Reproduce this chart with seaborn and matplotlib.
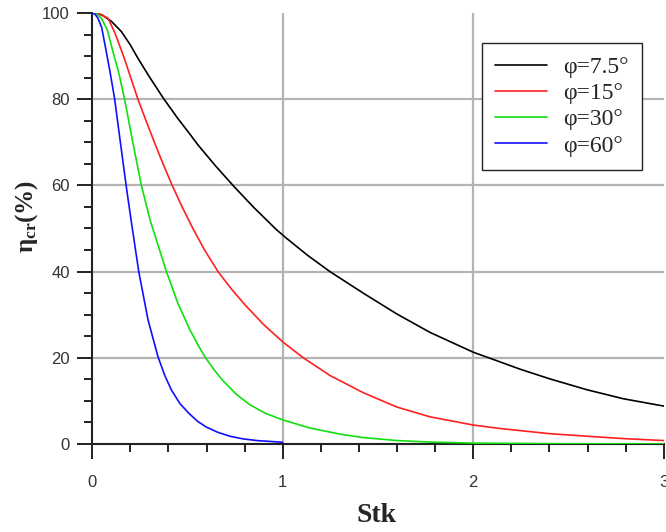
import numpy as np
import pandas as pd
import matplotlib
matplotlib.use("Agg")
import matplotlib.pyplot as plt
from matplotlib.ticker import MultipleLocator
import seaborn as sns

# Collection efficiency curves (Stk, eta_cr in %) for each angle
labels = ["φ=7.5°", "φ=15°", "φ=30°", "φ=60°"]
colors = ["#000000", "#ff2020", "#10e010", "#1010ff"]

stk_75 = [0, 0.05, 0.1, 0.153, 0.2, 0.24, 0.3, 0.377, 0.45, 0.513, 0.555, 0.65,
          0.741, 0.85, 0.968, 1.021, 1.13, 1.248, 1.423, 1.598, 1.773, 2.0, 2.088,
          2.25, 2.403, 2.596, 2.788, 3.0]
eta_75 = [100, 99.6, 98.1, 95.7, 92.6, 89.5, 85.2, 80.0, 75.5, 71.9, 69.4, 64.4,
          59.9, 54.8, 49.7, 47.7, 43.8, 40.0, 35.0, 30.2, 25.9, 21.3, 19.9,
          17.3, 15.1, 12.6, 10.5, 8.8]

stk_15 = [0, 0.04, 0.083, 0.12, 0.17, 0.2, 0.24, 0.28, 0.33, 0.37, 0.42, 0.47,
          0.525, 0.59, 0.662, 0.73, 0.802, 0.9, 1.0, 1.108, 1.248, 1.423, 1.598,
          1.773, 2.0, 2.14, 2.40, 2.6, 2.79, 3.0]
eta_15 = [100, 99.7, 98.8, 95.3, 89.3, 85.3, 80.0, 75.3, 69.6, 65.2, 60.0, 55.2,
          50.3, 45.0, 39.9, 36.0, 32.3, 27.7, 23.7, 20.0, 15.9, 11.9, 8.6,
          6.3, 4.4, 3.6, 2.4, 1.8, 1.25, 0.8]

stk_30 = [0, 0.025, 0.048, 0.08, 0.109, 0.14, 0.17, 0.214, 0.258, 0.305, 0.389,
          0.45, 0.513, 0.555, 0.592, 0.64, 0.688, 0.76, 0.828, 0.91, 1.0, 1.143,
          1.30, 1.42, 1.6, 1.77, 2.0, 2.5, 3.0]
eta_30 = [100, 99.7, 98.8, 96.0, 91.0, 86.0, 80.0, 69.8, 60.0, 51.8, 40.1,
          32.6, 26.5, 23.0, 20.2, 17.2, 14.6, 11.4, 9.1, 7.1, 5.6, 3.7,
          2.3, 1.5, 0.8, 0.45, 0.2, 0.05, 0.02]

stk_60 = [0, 0.015, 0.03, 0.05, 0.074, 0.095, 0.118, 0.144, 0.179, 0.203, 0.244,
          0.293, 0.345, 0.38, 0.415, 0.46, 0.508, 0.555, 0.60, 0.66, 0.723, 0.79,
          0.864, 1.0]
eta_60 = [100, 99.7, 98.8, 96.6, 91.0, 86.0, 80.0, 71.3, 59.7, 52.3, 40.1,
          28.8, 20.3, 16.0, 12.6, 9.4, 7.1, 5.2, 3.9, 2.7, 1.8, 1.2,
          0.8, 0.4]

x_ticks = [0, 1, 2, 3]
y_ticks = [0, 20, 40, 60, 80, 100]

frames = []
for lab, s, e in zip(labels, [stk_75, stk_15, stk_30, stk_60],
                     [eta_75, eta_15, eta_30, eta_60]):
    frames.append(pd.DataFrame({"Stk": s, "eta": e, "case": lab}))
df = pd.concat(frames, ignore_index=True)

sns.set_style("white")
plt.rcParams["font.family"] = ["Liberation Sans", "DejaVu Sans"]
plt.rcParams["mathtext.fontset"] = "custom"
plt.rcParams["mathtext.rm"] = "Liberation Serif:bold"
plt.rcParams["mathtext.it"] = "Liberation Serif:bold"
plt.rcParams["mathtext.bf"] = "Liberation Serif:bold"
plt.rcParams["mathtext.default"] = "bf"

fig = plt.figure(figsize=(6.66, 5.32), dpi=100)
ax = fig.add_axes([92.2 / 666, 88 / 532, 571.5 / 666, 431 / 532])

# grid lines at interior major positions
for v in y_ticks[1:-1]:
    ax.axhline(v, color="#b4b4b4", lw=1.6, zorder=0)
for v in x_ticks[1:-1]:
    ax.axvline(v, color="#b4b4b4", lw=1.6, zorder=0)

sns.lineplot(data=df, x="Stk", y="eta", hue="case", hue_order=labels,
             palette=dict(zip(labels, colors)), linewidth=1.2, sort=True,
             estimator=None, ax=ax, legend=False, zorder=3)

ax.set_xlim(0, 3)
ax.set_ylim(0, 100)
ax.set_xticks(x_ticks)
ax.set_yticks(y_ticks)
ax.xaxis.set_minor_locator(MultipleLocator(0.2))
ax.yaxis.set_minor_locator(MultipleLocator(5))
ax.tick_params(axis="both", which="major", direction="out", length=11,
               width=1.4, color="#222222", labelsize=12, labelcolor="#333333")
ax.tick_params(axis="both", which="minor", direction="out", length=6,
               width=1.4, color="#222222")
ax.tick_params(axis="x", which="major", pad=11)
ax.tick_params(axis="y", which="major", pad=5)
ax.tick_params(bottom=True, left=True, which="both")

for side in ["top", "right"]:
    ax.spines[side].set_visible(False)
for side in ["left", "bottom"]:
    ax.spines[side].set_color("#222222")
    ax.spines[side].set_linewidth(1.5)
    ax.spines[side].set_clip_on(False)

ax.set_xlabel("Stk", fontsize=20, fontweight="bold", family="Liberation Serif")
ax.set_ylabel(r"$\eta_{cr}(\%)$", fontsize=18)
ax.xaxis.set_label_coords(0.498, -0.167)
ax.xaxis.label.set_va("center")
ax.yaxis.set_label_coords(-0.114, 0.527)
ax.yaxis.label.set_va("center")

handles = [plt.Line2D([], [], color=c, lw=1.2) for c in colors]
leg = ax.legend(handles, labels, loc="upper right",
                bbox_to_anchor=((641.7 - 92.2) / 571.5, (444 - 43.3) / 431),
                prop={"family": "Liberation Serif", "size": 17},
                frameon=True, fancybox=False, framealpha=1, edgecolor="#222222",
                handlelength=2.2, handletextpad=0.68, labelspacing=0.2,
                borderpad=0.55, borderaxespad=0)
leg.get_frame().set_linewidth(1.0)
leg.set_zorder(5)

fig.savefig("out.png", dpi=100)
